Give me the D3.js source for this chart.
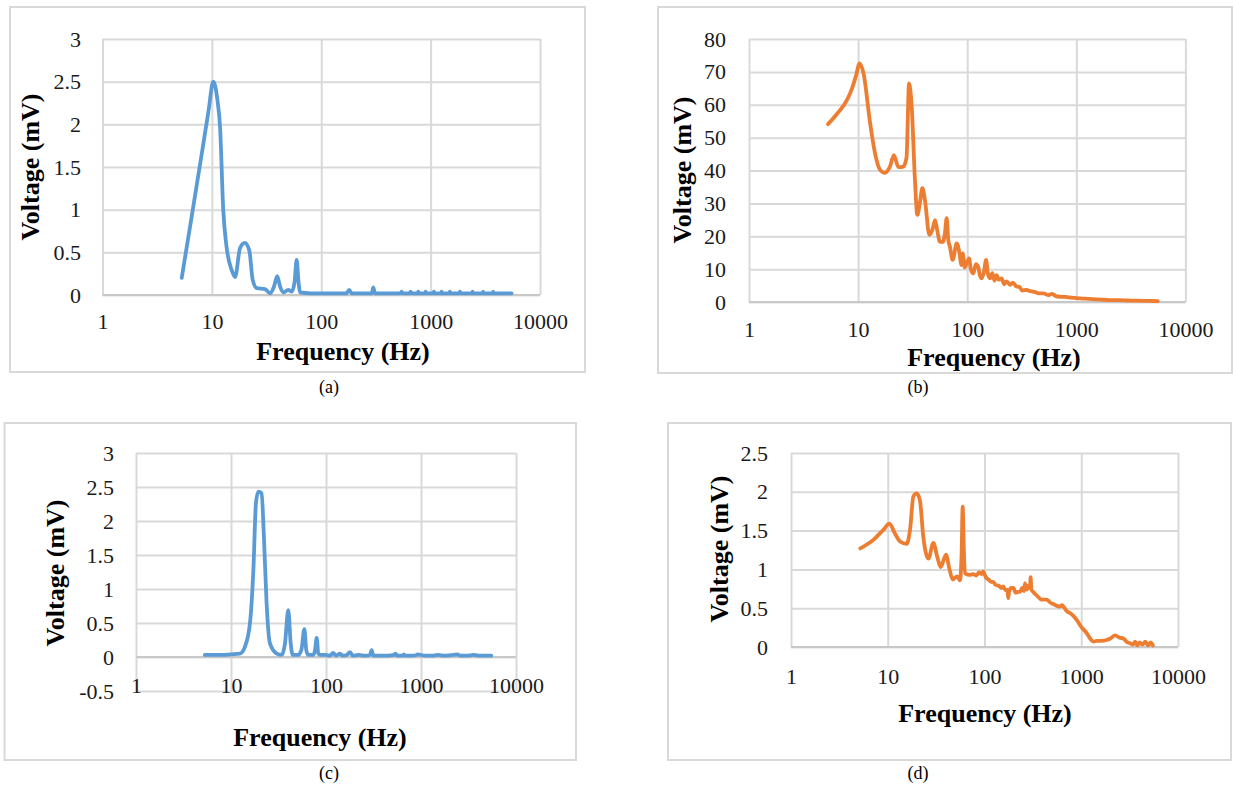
<!DOCTYPE html>
<html>
<head>
<meta charset="utf-8">
<script src="https://cdn.jsdelivr.net/npm/d3@7"></script>
<style>
    body { margin: 0; background: #fff; }
    svg { display: block; }
    svg text { font-family: "Liberation Serif", "Times New Roman", serif; }
</style>
</head>
<body>
<svg id="chart" width="1233" height="785"></svg>
<script>
// ---- data (frequency in Hz, voltage in mV) ----
var freqA = [5.3, 6.5, 8, 9.3, 10.3, 11.2, 11.9, 12.7, 13.6, 15.2, 16.3, 18.1, 20, 22, 23.6, 25.7,
    30.6, 34, 37, 39.6, 42, 45, 49.9, 53.7, 57, 59.6, 62, 64, 80, 100, 130, 170, 180, 190, 250,
    290, 299, 310, 400, 530, 543, 556, 640, 656, 672, 760, 771, 782, 890, 900, 910, 1060, 1072,
    1084, 1250, 1261, 1272, 1480, 1500, 1520, 1830, 1852, 1874, 2400, 2420, 2440, 3000, 3020,
    3040, 3710, 3734, 3760, 4500, 5500];
var voltA = [0.2, 0.9, 1.62, 2.15, 2.5, 2.3, 1.95, 1.0, 0.57, 0.29, 0.21, 0.55, 0.61, 0.52, 0.18, 0.08,
    0.07, 0.02, 0.1, 0.22, 0.1, 0.03, 0.06, 0.04, 0.15, 0.41, 0.15, 0.03, 0.02, 0.02, 0.02, 0.02, 0.06, 0.02, 0.02,
    0.02, 0.09, 0.02, 0.02, 0.02, 0.04, 0.02, 0.02, 0.04, 0.02, 0.02, 0.04, 0.02, 0.02, 0.04, 0.02, 0.02, 0.04,
    0.02, 0.02, 0.04, 0.02, 0.02, 0.04, 0.02, 0.02, 0.04, 0.02, 0.02, 0.04, 0.02, 0.02, 0.04,
    0.02, 0.02, 0.04, 0.02, 0.02, 0.02];

var freqB = [5.3, 6.5, 7.9, 8.7, 9.6, 10.3, 11.2, 12.9, 14.3, 15.9, 17.6, 19.6, 21.3, 23.4, 26, 27.8,
    29.3, 31, 33.2, 34.9, 36.8, 38.8, 41, 45, 48, 50.7, 53, 56.3, 60, 62.5, 64.9, 67, 69.5, 73.6,
    80.1, 85.9, 88, 91, 95, 98.9, 104, 108, 113.7, 120, 126, 131, 136, 142, 149, 155, 162, 170,
    178, 186, 195, 207, 218, 230, 247, 262, 284, 300, 320, 351, 380, 420, 460, 499, 550, 600,
    650, 709, 800, 900, 1000, 1200, 1400, 1700, 2000, 2500, 3000, 3600, 4300, 5000, 5580];
var voltB = [54.1, 57.5, 61.4, 64.5, 69, 72.6, 69.6, 54.3, 45.2, 40.2, 39.3, 41.2, 44.7, 41, 41.2, 44,
    66.5, 59.4, 37.1, 26.5, 30, 34.6, 31, 20.4, 22, 24.9, 22, 18.3, 18.3, 21, 25.5, 19, 16.8, 12.8,
    17.8, 13.8, 11.2, 14.8, 10.5, 11.8, 13.3, 10, 8.7, 11.5, 10.7, 8, 7.2, 9, 12.8, 8.5, 7.2, 8.8,
    6.5, 8.2, 6.8, 7.2, 5.4, 6.3, 5.2, 5.9, 4.7, 4.6, 3.5, 3.65, 3.3, 3.0, 2.6, 2.64, 2.1, 2.5,
    1.8, 1.6, 1.55, 1.3, 1.2, 1.0, 0.9, 0.75, 0.6, 0.55, 0.45, 0.4, 0.35, 0.3, 0.25];

var freqC = [5.3, 8, 10, 12.4, 14, 15.85, 17.2, 18.3, 19.4, 21, 22.2, 23.7, 25.7, 30.3, 34.2, 37,
    40.1, 42.5, 44.6, 51, 55, 59.2, 62, 65, 73.6, 77, 79.8, 83, 86.5, 100, 110, 119, 128, 140,
    150, 165, 179, 192, 220, 260, 290, 302, 315, 360, 450, 520, 540, 560, 640, 660, 680, 800,
    900, 920, 1100, 1300, 1500, 1800, 2200, 2420, 2600, 3000, 3600, 4200, 5000, 5500];
var voltC = [0.03, 0.03, 0.04, 0.05, 0.15, 0.5, 1.28, 2.26, 2.43, 2.41, 1.77, 0.79, 0.2, 0.05, 0.03, 0.2,
    0.69, 0.2, 0.03, 0.03, 0.1, 0.41, 0.1, 0.03, 0.03, 0.12, 0.28, 0.05, 0.03, 0.03, 0.02, 0.06, 0.02, 0.05,
    0.02, 0.03, 0.07, 0.02, 0.03, 0.02, 0.03, 0.10, 0.02, 0.02, 0.02, 0.03, 0.05, 0.02, 0.02, 0.04, 0.02, 0.02,
    0.03, 0.04, 0.02, 0.02, 0.03, 0.02, 0.03, 0.04, 0.02, 0.02, 0.03, 0.02, 0.02, 0.02];

var freqD = [5.2, 7.1, 9, 10.4, 11.9, 13.4, 15.7, 17, 18.4, 19.9, 21.5, 23.3, 26.3, 29.6, 32.5, 35.2,
    40, 43.3, 46.9, 52.3, 55.8, 58, 59.5, 61, 62.8, 70.8, 76, 82, 88, 93, 97, 103, 110, 117, 123,
    130, 140, 150, 156, 165, 172, 176, 180, 190, 199, 210, 222, 233, 245, 255, 262, 275, 285, 295,
    300, 305, 319, 350, 390, 439, 480, 520, 560, 603, 630, 700, 800, 897, 1000, 1137, 1250, 1333,
    1450, 1600, 1832, 2000, 2233, 2500, 2720, 3000, 3190, 3400, 3600, 3800, 4000, 4300, 4600,
    4900, 5200, 5500];
var voltD = [1.27, 1.38, 1.51, 1.59, 1.46, 1.36, 1.33, 1.51, 1.94, 1.98, 1.89, 1.42, 1.14, 1.34, 1.16, 1.03,
    1.19, 1.01, 0.87, 0.91, 0.86, 1.2, 1.81, 1.3, 0.95, 0.93, 0.94, 0.92, 0.96, 0.94, 0.97, 0.9, 0.87, 0.84, 0.84,
    0.8, 0.79, 0.76, 0.78, 0.73, 0.74, 0.63, 0.72, 0.76, 0.76, 0.7, 0.71, 0.71, 0.76, 0.72, 0.82, 0.74, 0.79, 0.76,
    0.9, 0.74, 0.71, 0.66, 0.61, 0.61, 0.57, 0.55, 0.53, 0.52, 0.54, 0.47, 0.42, 0.35, 0.26, 0.18, 0.1, 0.07,
    0.08, 0.08, 0.09, 0.11, 0.15, 0.12, 0.11, 0.06, 0.05, 0.03, 0.07, 0.02, 0.06, 0.03, 0.07,
    0.02, 0.06, 0.02];

// ---- tick labels and texts ----
var xTicks = [1, 10, 100, 1000, 10000];
var yTicksA = [0, 0.5, 1, 1.5, 2, 2.5, 3];
var yTicksB = [0, 10, 20, 30, 40, 50, 60, 70, 80];
var yTicksC = [-0.5, 0, 0.5, 1, 1.5, 2, 2.5, 3];
var yTicksD = [0, 0.5, 1, 1.5, 2, 2.5];
var captions = ['(a)', '(b)', '(c)', '(d)'];
var xTitleText = 'Frequency (Hz)';
var yTitleText = 'Voltage (mV)';

var blue = '#5B9BD5', orange = '#ED7D31';
var serif = '"Liberation Serif", "Times New Roman", serif';

// Layout of each sub-chart (box, plot area, text anchors)
var panels = [
    { freq: freqA, volt: voltA, yTicks: yTicksA, color: blue, caption: captions[0],
      box: [10, 7, 585, 372], plot: [102.5, 39, 540, 295],
      yLab: 81, xLab: 322, xTitle: [343, 351], yTitle: [30, 167], cap: [329, 387] },
    { freq: freqB, volt: voltB, yTicks: yTicksB, color: orange, caption: captions[1],
      box: [658, 7, 1232, 373], plot: [749, 39, 1185.4, 302],
      yLab: 726, xLab: 330, xTitle: [994, 357], yTitle: [682, 170], cap: [918, 387] },
    { freq: freqC, volt: voltC, yTicks: yTicksC, color: blue, caption: captions[2],
      box: [4.5, 423, 576, 760], plot: [136, 453, 516, 691],
      yLab: 114, xLab: 686, xTitle: [320, 737], yTitle: [55, 573], cap: [329, 773] },
    { freq: freqD, volt: voltD, yTicks: yTicksD, color: orange, caption: captions[3],
      box: [668, 423, 1231, 760], plot: [791, 453, 1178, 647],
      yLab: 768, xLab: 677, xTitle: [985, 713], yTitle: [719, 549], cap: [918, 773] }
];

var svg = d3.select('#chart');

var drawPanel = function(p) {
    var g = svg.append('g');
    var l = p.plot[0], t = p.plot[1], r = p.plot[2], b = p.plot[3];

    g.append('rect')
        .attr('x', p.box[0]).attr('y', p.box[1])
        .attr('width', p.box[2] - p.box[0]).attr('height', p.box[3] - p.box[1])
        .attr('fill', '#fff').attr('stroke', '#d9d9d9').attr('stroke-width', 2);

    var x = d3.scaleLog().domain([1, 10000]).range([l, r]);
    var y = d3.scaleLinear()
        .domain([p.yTicks[0], p.yTicks[p.yTicks.length - 1]])
        .range([b, t]);

    // gridlines (horizontal + vertical)
    var gy = g.append('g').attr('transform', 'translate(' + l + ',0)')
        .call(d3.axisLeft(y).tickValues(p.yTicks).tickSize(-(r - l)).tickFormat(''));
    var gx = g.append('g').attr('transform', 'translate(0,' + b + ')')
        .call(d3.axisBottom(x).tickValues(xTicks).tickSize(-(b - t)).tickFormat(''));
    [gy, gx].forEach(function(sel) {
        sel.select('.domain').remove();
        sel.selectAll('line').attr('stroke', '#d9d9d9').attr('stroke-width', 2);
    });
    // horizontal axis sits on zero
    g.append('line')
        .attr('x1', l).attr('x2', r).attr('y1', y(0)).attr('y2', y(0))
        .attr('stroke', '#c8c8c8').attr('stroke-width', 2);

    // tick labels
    var ay = g.append('g').attr('transform', 'translate(' + p.yLab + ',0)')
        .call(d3.axisLeft(y).tickValues(p.yTicks).tickSize(0).tickPadding(0)
            .tickFormat(function(d) { return String(d); }));
    var ax = g.append('g').attr('transform', 'translate(0,' + p.xLab + ')')
        .call(d3.axisBottom(x).tickValues(xTicks).tickSize(0).tickPadding(0)
            .tickFormat(function(d) { return String(d); }));
    [ay, ax].forEach(function(sel) {
        sel.select('.domain').remove();
        sel.attr('font-family', serif).attr('font-size', 22);
        sel.selectAll('text').attr('fill', '#1a1a1a');
    });
    ax.selectAll('text').attr('y', 0).attr('dy', '0.34em');

    // the spectrum
    var line = d3.line()
        .x(function(d) { return x(d[0]); })
        .y(function(d) { return y(d[1]); })
        .curve(d3.curveMonotoneX);
    g.append('path')
        .datum(d3.zip(p.freq, p.volt))
        .attr('d', line)
        .attr('fill', 'none')
        .attr('stroke', p.color)
        .attr('stroke-width', 3.8)
        .attr('stroke-linejoin', 'round')
        .attr('stroke-linecap', 'round');

    // axis titles
    g.append('text')
        .attr('x', p.xTitle[0]).attr('y', p.xTitle[1])
        .attr('dy', '0.35em')
        .attr('text-anchor', 'middle')
        .attr('font-family', serif)
        .style('font-size', '26px').style('font-weight', 'bold')
        .text(xTitleText);
    g.append('text')
        .attr('transform', 'translate(' + p.yTitle[0] + ',' + p.yTitle[1] + ') rotate(-90)')
        .attr('dy', '0.35em')
        .attr('text-anchor', 'middle')
        .attr('font-family', serif)
        .style('font-size', '26px').style('font-weight', 'bold')
        .text(yTitleText);

    // caption under the box
    svg.append('text')
        .attr('x', p.cap[0]).attr('y', p.cap[1])
        .attr('dy', '0.35em')
        .attr('text-anchor', 'middle')
        .attr('font-family', serif)
        .style('font-size', '18px')
        .text(p.caption);
};

panels.forEach(drawPanel);
</script>
</body>
</html>
